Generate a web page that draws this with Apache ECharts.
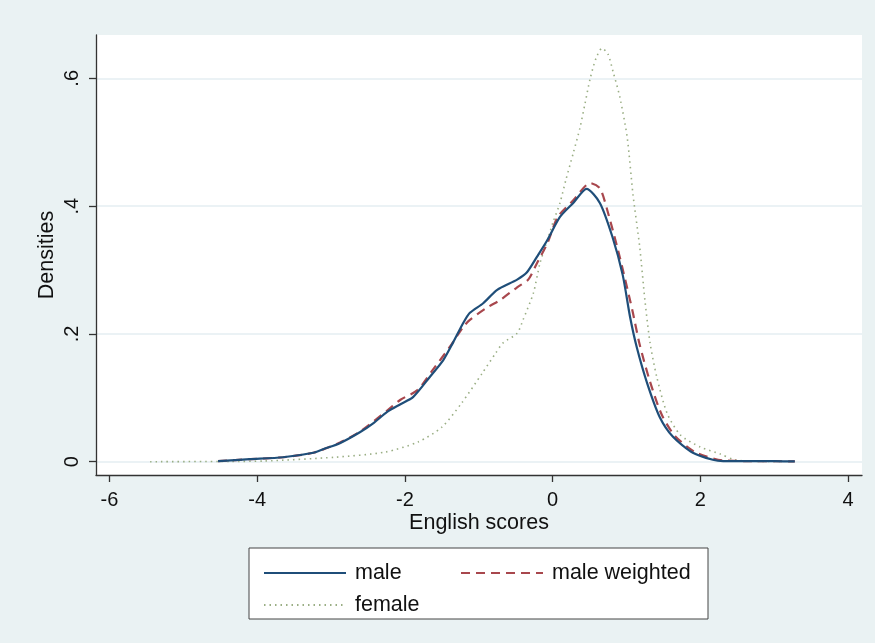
<!DOCTYPE html>
<html>
<head>
<meta charset="utf-8">
<script src="https://cdn.jsdelivr.net/npm/echarts@6/dist/echarts.min.js"></script>
<style>
html,body{margin:0;padding:0;background:#eaf2f3;}
#chart{width:875px;height:643px;}
</style>
</head>
<body>
<div id="chart"></div>
<script>
// Tick values
const xTicks = [-6, -4, -2, 0, 2, 4];
const yTicks = [0, 0.2, 0.4, 0.6];

// male
const maleX = [-4.53,-4.10,-3.65,-3.24,-3.10,-2.88,-2.61,-2.43,-2.24,-2.06,-1.89,-1.66,-1.48,-1.35,-1.21,-1.12,-0.94,-0.75,-0.48,-0.35,-0.21,-0.07,0.10,0.28,0.46,0.64,0.81,0.95,1.05,1.14,1.28,1.45,1.63,1.90,2.17,2.31,2.60,3.00,3.28];
const maleY = [0.001,0.004,0.007,0.014,0.020,0.029,0.046,0.060,0.078,0.090,0.101,0.133,0.159,0.186,0.217,0.233,0.248,0.269,0.285,0.296,0.321,0.347,0.383,0.405,0.427,0.405,0.352,0.292,0.226,0.179,0.123,0.070,0.039,0.014,0.003,0.001,0.001,0.0008,0.0005];

// male weighted
const weightedX = [-4.53,-4.10,-3.65,-3.24,-2.88,-2.61,-2.24,-2.06,-1.83,-1.62,-1.39,-1.21,-1.12,-0.89,-0.71,-0.48,-0.33,-0.21,-0.07,0.07,0.28,0.51,0.64,0.74,0.91,1.08,1.18,1.32,1.48,1.66,1.93,2.20,2.31,2.60,3.00,3.28];
const weightedY = [0.001,0.004,0.007,0.014,0.030,0.047,0.080,0.097,0.112,0.144,0.180,0.211,0.222,0.241,0.253,0.273,0.285,0.311,0.342,0.383,0.409,0.436,0.428,0.394,0.320,0.237,0.183,0.125,0.073,0.040,0.015,0.004,0.002,0.001,0.0008,0.0005];

// female
const femaleX = [-5.45,-4.37,-3.92,-2.95,-2.27,-1.82,-1.50,-1.23,-0.95,-0.77,-0.67,-0.48,-0.40,-0.26,-0.17,-0.07,0.01,0.10,0.18,0.28,0.37,0.44,0.51,0.59,0.67,0.75,0.82,0.91,1.01,1.09,1.18,1.25,1.32,1.41,1.55,1.73,2.00,2.27,2.44,2.60,3.08];
const femaleY = [0.000,0.0005,0.001,0.007,0.015,0.031,0.054,0.092,0.139,0.170,0.186,0.201,0.222,0.264,0.311,0.347,0.376,0.405,0.441,0.483,0.522,0.561,0.600,0.632,0.647,0.638,0.610,0.571,0.508,0.417,0.336,0.253,0.186,0.133,0.076,0.042,0.023,0.012,0.004,0.001,0.0003];

const zip = (xs, ys) => xs.map((x, i) => [x, ys[i]]);

const FONT = 'Liberation Sans, Arial, sans-serif';
const chart = echarts.init(document.getElementById('chart'), null, {renderer: 'canvas'});

const legendCommon = {
  orient: 'vertical',
  top: 557,
  itemWidth: 82, itemHeight: 14, itemGap: 10,
  itemStyle: {opacity: 0},
  textStyle: {fontSize: 21.5, color: '#111', fontFamily: FONT, padding: [0, 0, 0, 4]}
};

chart.setOption({
  backgroundColor: '#eaf2f3',
  animation: false,
  grid: {
    left: 96, top: 35, width: 766, height: 440,
    show: true, backgroundColor: '#ffffff', borderWidth: 0
  },
  xAxis: {
    type: 'value',
    min: -6.183, max: 4.19,
    name: 'English scores',
    nameLocation: 'middle',
    nameGap: 37,
    nameMoveOverlap: false,
    nameTextStyle: {fontSize: 21.5, color: '#111', fontFamily: FONT},
    axisLine: {show: true, onZero: false, lineStyle: {color: '#333', width: 1.3}},
    axisTick: {show: true, length: 7, lineStyle: {color: '#333', width: 1.3}, customValues: xTicks},
    axisLabel: {fontSize: 20, color: '#111', fontFamily: FONT, margin: 15, customValues: xTicks,
      formatter: v => String(v)},
    splitLine: {show: false}
  },
  yAxis: {
    type: 'value',
    min: -0.0208, max: 0.6678,
    name: 'Densities',
    nameLocation: 'middle',
    nameGap: 38,
    nameMoveOverlap: false,
    nameRotate: 90,
    nameTextStyle: {fontSize: 21.5, color: '#111', fontFamily: FONT},
    axisLine: {show: true, onZero: false, lineStyle: {color: '#333', width: 1.3}},
    axisTick: {show: true, length: 7, lineStyle: {color: '#333', width: 1.3}, customValues: yTicks},
    axisLabel: {fontSize: 20, color: '#111', fontFamily: FONT, rotate: 90, margin: 14, customValues: yTicks,
      formatter: v => (v === 0 ? '0' : String(Math.round(v * 10) / 10).replace(/^0/, ''))},
    splitLine: {show: true, lineStyle: {color: '#e4eef2', width: 1.5}, customValues: yTicks}
  },
  legend: [
    Object.assign({id: 'lg1', data: ['male', 'female'], left: 258}, legendCommon),
    Object.assign({id: 'lg2', data: ['male weighted'], left: 455}, legendCommon)
  ],
  graphic: [
    {
      type: 'rect', z: -1, silent: true,
      shape: {x: 249, y: 548, width: 459, height: 71},
      style: {fill: '#ffffff', stroke: '#444', lineWidth: 1}
    }
  ],
  series: [
    {
      name: 'male', type: 'line', data: zip(maleX, maleY),
      symbol: 'none', smooth: 0.25, z: 3,
      lineStyle: {color: '#1f4e79', width: 2.2, type: 'solid'},
      itemStyle: {color: '#1f4e79'}
    },
    {
      name: 'male weighted', type: 'line', data: zip(weightedX, weightedY),
      symbol: 'none', smooth: 0.25, z: 2,
      lineStyle: {color: '#a8474d', width: 2.2, type: [9, 6]},
      itemStyle: {color: '#a8474d'}
    },
    {
      name: 'female', type: 'line', data: zip(femaleX, femaleY),
      symbol: 'none', smooth: 0.25, z: 1,
      lineStyle: {color: '#9aae84', width: 1.6, type: [1.5, 4]},
      itemStyle: {color: '#9aae84'}
    }
  ]
});
</script>
</body>
</html>
